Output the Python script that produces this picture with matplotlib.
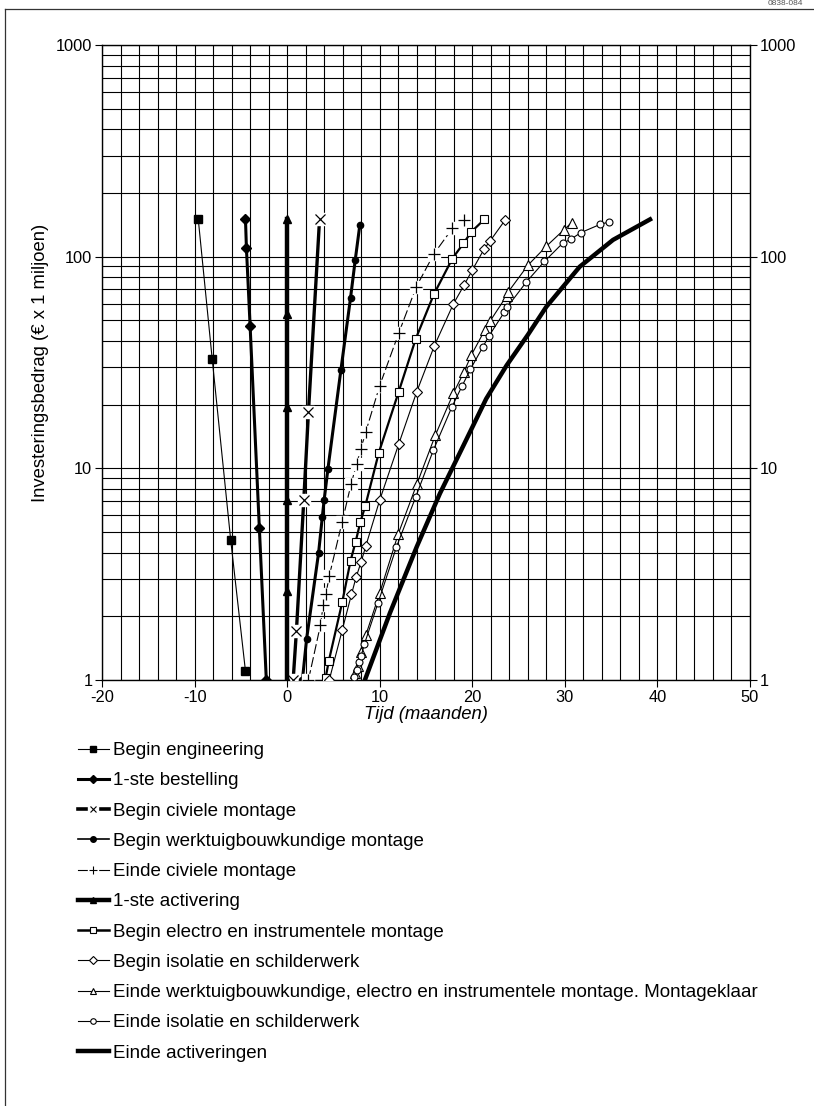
import numpy as np
import matplotlib
matplotlib.use("Agg")
import matplotlib.pyplot as plt
from matplotlib.lines import Line2D
from matplotlib.legend_handler import HandlerTuple
from matplotlib.ticker import FixedLocator, MultipleLocator, NullFormatter

plt.rcParams['font.family'] = ['Liberation Sans', 'DejaVu Sans']
plt.rcParams['axes.unicode_minus'] = False

# data (time in months, investment in M EUR)
eng_x = [-9.6, -8.1, -6.1, -4.5]
eng_y = [150, 33, 4.6, 1.1]

best_x = [-4.5, -4.4, -4.0, -3.0, -2.25]
best_y = [150, 110, 47, 5.2, 1.0]

civ_x = [0.65, 1.0, 1.8, 2.3, 3.5]
civ_y = [1.0, 1.7, 7.1, 18.4, 150]

wtb_x = [1.65, 2.1, 3.4, 3.8, 4.0, 4.4, 5.8, 6.85, 7.35, 7.85]
wtb_y = [1.0, 1.56, 4.0, 5.9, 7.1, 9.9, 29, 64, 96, 141]

ecm_x = [2.3, 3.6, 3.9, 4.2, 4.55, 5.95, 6.9, 7.5, 7.95, 8.5, 10.0, 12.05, 13.95, 15.85, 17.85, 19.1]
ecm_y = [1.0, 1.82, 2.27, 2.56, 3.1, 5.6, 8.4, 10.5, 12.3, 14.9, 24.6, 43.5, 72, 103, 136, 149]

act_x = [0, 0, 0, 0, 0, 0]
act_y = [1.0, 2.63, 7.1, 19.5, 53.6, 150]

elec_x = [4.15, 4.5, 5.95, 6.85, 7.4, 7.9, 8.45, 9.9, 12.05, 13.9, 15.85, 17.85, 19.05, 19.9, 21.3]
elec_y = [1.02, 1.23, 2.33, 3.66, 4.5, 5.56, 6.66, 11.85, 23, 41, 66.4, 98, 115.6, 131, 150]

iso_x = [4.55, 5.95, 6.95, 7.45, 8.0, 8.5, 10.0, 12.05, 14.0, 15.9, 17.95, 19.1, 20.0, 21.3, 21.95, 23.55]
iso_y = [1.0, 1.72, 2.54, 3.06, 3.62, 4.3, 7.08, 13, 23, 37.9, 59.7, 73.2, 86.4, 109, 119, 149]

ewm_x = [7.3, 7.65, 8.0, 8.5, 10.0, 12.0, 14.0, 16.0, 17.95, 19.1, 19.9, 21.35, 21.95, 23.7, 23.9, 26.0, 28.0, 29.9, 30.75]
ewm_y = [1.08, 1.16, 1.36, 1.63, 2.58, 4.9, 8.4, 14.3, 22.6, 28.5, 34.3, 45, 49.8, 65.2, 68.3, 91, 112, 134, 145]

eis_x = [7.25, 7.5, 7.75, 8.0, 8.35, 9.8, 11.8, 13.9, 15.8, 17.8, 18.9, 19.8, 21.15, 21.8, 23.45, 23.75, 25.85, 27.8, 29.75, 30.65, 31.75, 33.8, 34.8]
eis_y = [1.03, 1.12, 1.22, 1.3, 1.48, 2.3, 4.24, 7.34, 12.2, 19.5, 24.5, 29.4, 37.5, 42.2, 54.6, 57.6, 76, 95, 115.6, 121, 130, 142, 146]

eact_x = [8.4, 11.1, 14.0, 16.5, 19.0, 21.5, 23.7, 26.0, 28.0, 31.6, 35.2, 39.2]
eact_y = [1.0, 2.07, 4.26, 7.6, 12.7, 21.3, 30.6, 42.7, 58, 89.6, 120, 150]

labels = ['Begin engineering', '1-ste bestelling', 'Begin civiele montage',
          'Begin werktuigbouwkundige montage', 'Einde civiele montage',
          '1-ste activering', 'Begin electro en instrumentele montage',
          'Begin isolatie en schilderwerk',
          'Einde werktuigbouwkundige, electro en instrumentele montage. Montageklaar',
          'Einde isolatie en schilderwerk', 'Einde activeringen']

fig = plt.figure(figsize=(8.14, 11.06), dpi=100)
ax = fig.add_axes([102/814, 1-680/1106, 648/814, 635/1106])

ax.plot(eng_x, eng_y, color='black', lw=0.8, marker='s', ms=6, mfc='black', mec='black', zorder=5)
ax.plot(best_x, best_y, color='black', lw=2.2, marker='D', ms=5.5, mfc='black', mec='black', zorder=5)

# x and + markers sit on a white patch, like the original
ax.plot(civ_x, civ_y, color='black', lw=2.4, marker='s', ms=9, mfc='white', mec='white', zorder=5)
ax.plot(civ_x, civ_y, ls='none', marker='x', ms=7, mec='black', mew=0.9, zorder=6)

ax.plot(wtb_x, wtb_y, color='black', lw=2.2, marker='o', ms=4.5, mfc='black', mec='black', zorder=5)

ax.plot(ecm_x, ecm_y, color='black', lw=0.8, ls=(0, (9, 3)), marker='s', ms=9, mfc='white', mec='white', zorder=5)
ax.plot(ecm_x, ecm_y, ls='none', marker='+', ms=8, mec='black', mew=0.9, zorder=6)

ax.plot(act_x, act_y, color='black', lw=3.2, marker='^', ms=6, mfc='black', mec='black', zorder=5)
ax.plot(elec_x, elec_y, color='black', lw=1.6, marker='s', ms=6, mfc='white', mec='black', mew=0.8, zorder=5)
ax.plot(iso_x, iso_y, color='black', lw=0.8, marker='D', ms=5.5, mfc='white', mec='black', mew=0.8, zorder=5)
ax.plot(ewm_x, ewm_y, color='black', lw=0.8, marker='^', ms=6.5, mfc='white', mec='black', mew=0.8, zorder=5)
ax.plot(eis_x, eis_y, color='black', lw=0.8, marker='o', ms=5, mfc='white', mec='black', mew=0.8, zorder=5)
ax.plot(eact_x, eact_y, color='black', lw=3.2, zorder=5)

ax.set_yscale('log')
ax.set_xlim(-20, 50)
ax.set_ylim(1, 1000)

ax.xaxis.set_major_locator(MultipleLocator(10))
ax.xaxis.set_minor_locator(MultipleLocator(2))
ax.yaxis.set_major_locator(FixedLocator([1, 10, 100, 1000]))
ax.set_yticklabels(['1', '10', '100', '1000'])
ax.yaxis.set_minor_formatter(NullFormatter())
ax.tick_params(which='major', direction='out', length=5, width=0.8, color='black',
               labelsize=11.8, right=True, labelright=True, pad=2)
ax.tick_params(which='minor', length=0)
ax.grid(True, which='both', color='black', lw=0.8)
ax.set_axisbelow(True)
for s in ax.spines.values():
    s.set_linewidth(1.0)

ax.set_ylabel('Investeringsbedrag (€ x 1 miljoen)', fontsize=13.3, labelpad=5)
ax.set_xlabel('Tijd (maanden)', style='italic', fontsize=13.3, labelpad=1)

# legend proxies: smaller markers than in the plot
def proxy(**kw):
    return Line2D([], [], color='black', **kw)

handles = [
    proxy(lw=0.8, marker='s', ms=4.5, mfc='black'),
    proxy(lw=2.2, marker='D', ms=4.5, mfc='black'),
    (proxy(lw=2.6, marker='s', ms=7, mfc='white', mec='white'),
     proxy(ls='none', marker='x', ms=5, mew=0.8)),
    proxy(lw=1.2, marker='o', ms=4, mfc='black'),
    (proxy(lw=0.8, marker='s', ms=7, mfc='white', mec='white'),
     proxy(ls='none', marker='+', ms=6, mew=0.8)),
    proxy(lw=3.2, marker='^', ms=5, mfc='black'),
    proxy(lw=1.8, marker='s', ms=4.5, mfc='white', mew=0.8),
    proxy(lw=0.8, marker='D', ms=4.5, mfc='white', mew=0.8),
    proxy(lw=0.8, marker='^', ms=5, mfc='white', mew=0.8),
    proxy(lw=0.8, marker='o', ms=4, mfc='white', mew=0.8),
    proxy(lw=3.2),
]

fig.legend(handles, labels, loc='upper left', bbox_to_anchor=(78/814, 1-742/1106),
           frameon=False, fontsize=13.5, handlelength=1.65, handletextpad=0.2,
           labelspacing=0.7, borderpad=0, borderaxespad=0,
           handler_map={tuple: HandlerTuple(ndivide=1, pad=0)})

# page border and code
fig.add_artist(Line2D([5/814, 1], [1-9/1106, 1-9/1106], color='#333333', lw=0.9))
fig.add_artist(Line2D([5/814, 5/814], [0, 1-9/1106], color='#333333', lw=0.9))
fig.text(768/814, 1, '0838-084', fontsize=6, color='#555555', ha='left', va='top')

fig.savefig('out.png', dpi=100)
